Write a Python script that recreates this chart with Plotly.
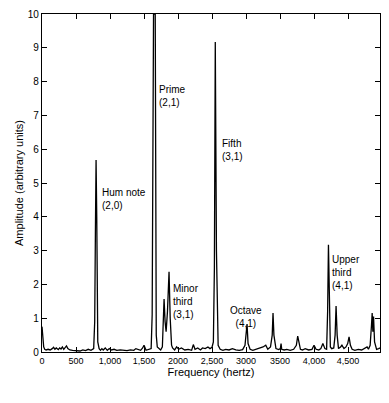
import plotly.graph_objects as go

# Spectrum (frequency in Hz, amplitude in arbitrary units)
freq = [
    0, 12, 25, 40, 60, 90, 120, 150, 170, 190,
    210, 240, 260, 280, 300, 320, 340, 360, 380, 410,
    450, 500, 560, 600, 640, 680, 720, 760, 775, 785,
    795, 805, 820, 840, 860, 880, 900, 930, 960, 990,
    1020, 1060, 1100, 1150, 1200, 1250, 1300, 1350, 1380, 1420,
    1450, 1480, 1500, 1530, 1570, 1605, 1620, 1640, 1665, 1680,
    1695, 1720, 1745, 1770, 1795, 1810, 1825, 1845, 1868, 1885,
    1905, 1920, 1950, 1980, 2010, 2050, 2100, 2150, 2200, 2225,
    2250, 2290, 2330, 2360, 2400, 2440, 2470, 2500, 2520, 2535,
    2548, 2565, 2590, 2620, 2660, 2700, 2750, 2800, 2850, 2900,
    2950, 2985, 3000, 3015, 3030, 3060, 3100, 3150, 3200, 3250,
    3290, 3320, 3360, 3385, 3397, 3410, 3440, 3480, 3505, 3515,
    3525, 3560, 3600, 3650, 3700, 3740, 3760, 3780, 3800, 3830,
    3870, 3920, 3970, 4000, 4030, 4070, 4100, 4130, 4160, 4185,
    4200, 4212, 4225, 4240, 4260, 4290, 4310, 4324, 4340, 4360,
    4390, 4410, 4440, 4470, 4495, 4515, 4535, 4560, 4600, 4650,
    4700, 4740, 4780, 4800, 4825, 4845, 4855, 4865, 4875, 4890,
    4920, 4950, 4970,
]
amp = [
    0.75, 0.5, 0.15, 0.08, 0.06, 0.08, 0.06, 0.1, 0.14, 0.08,
    0.12, 0.07, 0.12, 0.09, 0.15, 0.08, 0.13, 0.18, 0.1, 0.06,
    0.05, 0.04, 0.03, 0.06, 0.04, 0.08, 0.05, 0.1, 0.9, 3.5,
    5.68, 4.0, 0.3, 0.1, 0.05, 0.1, 0.06, 0.12, 0.05, 0.1,
    0.06, 0.08, 0.05, 0.06, 0.05, 0.04, 0.06, 0.05, 0.1, 0.06,
    0.05, 0.12, 0.2, 0.05, 0.08, 0.1, 1.1, 10.0, 10.0, 0.5,
    0.15, 0.1, 0.06, 0.15, 1.57, 0.9, 0.6, 1.2, 2.37, 1.0,
    0.2, 0.12, 0.06, 0.15, 0.08, 0.12, 0.06, 0.08, 0.05, 0.22,
    0.08, 0.12, 0.06, 0.12, 0.1, 0.15, 0.1, 0.14, 0.3, 2.5,
    9.17, 3.0, 0.2, 0.08, 0.05, 0.08, 0.06, 0.1, 0.06, 0.05,
    0.07, 0.2, 0.45, 0.83, 0.25, 0.08, 0.05, 0.08, 0.1, 0.15,
    0.2, 0.08, 0.15, 0.5, 1.15, 0.5, 0.1, 0.07, 0.1, 0.25,
    0.08, 0.06, 0.08, 0.05, 0.08, 0.2, 0.47, 0.2, 0.08, 0.06,
    0.1, 0.06, 0.08, 0.2, 0.08, 0.06, 0.1, 0.25, 0.1, 0.08,
    1.2, 3.17, 1.0, 0.15, 0.1, 0.12, 0.5, 1.36, 0.5, 0.1,
    0.15, 0.2, 0.1, 0.15, 0.25, 0.45, 0.2, 0.08, 0.05, 0.08,
    0.06, 0.1, 0.15, 0.08, 0.2, 0.8, 1.15, 0.6, 1.05, 0.3,
    0.08, 0.1, 0.12,
]

xtick_vals = [0, 500, 1000, 1500, 2000, 2500, 3000, 3500, 4000, 4500]
xtick_text = ["0", "500", "1,000", "1,500", "2000", "2,500", "3000", "3500", "4,000", "4,500"]
ytick_vals = [0, 1, 2, 3, 4, 5, 6, 7, 8, 9, 10]

labels = ["Hum note<br>(2,0)", "Prime<br>(2,1)", "Minor<br>third<br>(3,1)", "Fifth<br>(3,1)",
          "Octave<br>(4,1)", "Upper<br>third<br>(4,1)"]
label_x = [853, 1690, 1897, 2618, 3000, 4235]
label_y = [4.95, 8.0, 2.1, 6.4, 1.45, 2.95]
label_anchor = ["left", "left", "left", "left", "center", "left"]

FONT = "Liberation Sans"

fig = go.Figure()
fig.add_trace(go.Scatter(x=freq, y=amp, mode="lines",
                         line=dict(color="black", width=1.3), hoverinfo="skip"))

for t, x, y, a in zip(labels, label_x, label_y, label_anchor):
    fig.add_annotation(x=x, y=y, xref="x", yref="y", text=t, showarrow=False,
                       xanchor=a, yanchor="top", align=a,
                       font=dict(family=FONT, size=10, color="black"))

fig.update_layout(
    width=389, height=403,
    margin=dict(l=42, r=9, t=14, b=51),
    paper_bgcolor="white", plot_bgcolor="white",
    showlegend=False,
    font=dict(family=FONT, size=10, color="black"),
)
fig.update_xaxes(range=[0, 4970], tickvals=xtick_vals, ticktext=xtick_text, automargin=False,
                 showgrid=False, zeroline=False, showline=True, linecolor="black", linewidth=1.3,
                 mirror="ticks", ticks="inside", ticklen=5, tickcolor="black", tickwidth=1,
                 tickfont=dict(size=9),
                 title=dict(text="Frequency (hertz)", font=dict(size=11), standoff=2))
fig.update_yaxes(range=[0, 10], tickvals=ytick_vals, automargin=False,
                 showgrid=False, zeroline=False, showline=True, linecolor="black", linewidth=1.3,
                 mirror="ticks", ticks="inside", ticklen=5, tickcolor="black", tickwidth=1,
                 tickfont=dict(size=10),
                 title=dict(text="Amplitude (arbitrary units)", font=dict(size=11), standoff=1))

fig.write_html("out.html", config={"displayModeBar": False},
               post_script="document.body.style.margin='0';document.body.style.overflow='hidden';")
